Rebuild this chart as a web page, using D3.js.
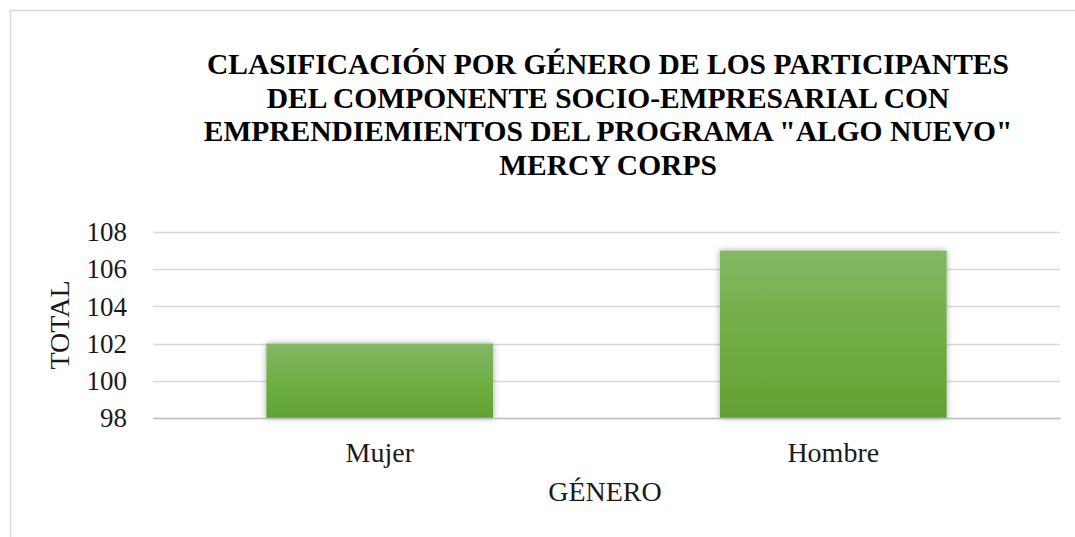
<!DOCTYPE html>
<html>
<head>
<meta charset="utf-8">
<script src="https://cdn.jsdelivr.net/npm/d3@7"></script>
<style>
	body { margin: 0; background: #fff; }
	svg { display: block; font-family: "Liberation Serif", "Times New Roman", serif; }
</style>
</head>
<body>
<svg id="chart" width="1075" height="537"></svg>
<script>
var categories = ["Mujer", "Hombre"];
var totals = [102, 107];
var yTicks = [98, 100, 102, 104, 106, 108];
var titleLines = [
	"CLASIFICACIÓN POR GÉNERO DE LOS PARTICIPANTES",
	"DEL COMPONENTE SOCIO-EMPRESARIAL CON",
	"EMPRENDIEMIENTOS DEL PROGRAMA \"ALGO NUEVO\"",
	"MERCY CORPS"
];

var svg = d3.select("#chart");
var plotLeft = 153, plotRight = 1060, plotTop = 232, plotBottom = 418;

// chart frame, cut off on the right and bottom like the source
svg.append("path")
	.attr("d", "M10.5,537 V10.5 H1075")
	.attr("fill", "none")
	.attr("stroke", "#d9d9d9")
	.attr("stroke-width", 1.5);

var defs = svg.append("defs");
var grad = defs.append("linearGradient")
	.attr("id", "barFill")
	.attr("x1", 0).attr("y1", 0).attr("x2", 0).attr("y2", 1);
grad.append("stop").attr("offset", "0%").attr("stop-color", "#83b866");
grad.append("stop").attr("offset", "50%").attr("stop-color", "#70ae43");
grad.append("stop").attr("offset", "100%").attr("stop-color", "#62a235");

var shadow = defs.append("filter").attr("id", "shadow")
	.attr("x", "-10%").attr("y", "-10%").attr("width", "120%").attr("height", "120%");
shadow.append("feDropShadow")
	.attr("dx", 0).attr("dy", 0).attr("stdDeviation", 3)
	.attr("flood-color", "#000").attr("flood-opacity", 0.35);

var x = d3.scaleBand().domain(categories).range([plotLeft, plotRight]).paddingInner(0.5).paddingOuter(0.25);
var y = d3.scaleLinear().domain([98, 108]).range([plotBottom, plotTop]);

// gridlines
svg.append("g")
	.selectAll("line")
	.data(yTicks)
	.join("line")
	.attr("x1", plotLeft).attr("x2", plotRight)
	.attr("y1", function (d) { return Math.round(y(d)) + 0.5; })
	.attr("y2", function (d) { return Math.round(y(d)) + 0.5; })
	.attr("stroke", "#d9d9d9")
	.attr("stroke-width", 1.5);

// y axis labels
var yAxis = svg.append("g")
	.attr("transform", "translate(" + plotLeft + ",0)")
	.call(d3.axisLeft(y).tickValues(yTicks).tickSize(0).tickPadding(26));
yAxis.select(".domain").remove();
yAxis.selectAll("text")
	.attr("font-family", "Liberation Serif")
	.attr("font-size", 27)
	.attr("fill", "#1a1a1a");

// bars
svg.append("g")
	.selectAll("rect")
	.data(totals)
	.join("rect")
	.attr("x", function (d, i) { return x(categories[i]); })
	.attr("width", x.bandwidth())
	.attr("y", function (d) { return y(d); })
	.attr("height", function (d) { return y(98) - y(d); })
	.attr("fill", "url(#barFill)")
	.attr("filter", "url(#shadow)");

// x axis
var xAxis = svg.append("g")
	.attr("transform", "translate(0," + plotBottom + ")")
	.call(d3.axisBottom(x).tickSize(0).tickPadding(0));
xAxis.select(".domain")
	.attr("stroke", "#bfbfbf")
	.attr("stroke-width", 1.5);
xAxis.selectAll("text")
	.attr("dy", null)
	.attr("y", 44)
	.attr("font-family", "Liberation Serif")
	.attr("font-size", 28)
	.attr("fill", "#1a1a1a");

// axis titles
svg.append("text")
	.attr("x", 605)
	.attr("y", 501)
	.attr("text-anchor", "middle")
	.attr("font-size", 28)
	.attr("fill", "#1a1a1a")
	.text("GÉNERO");

svg.append("text")
	.attr("transform", "translate(69,325) rotate(-90)")
	.attr("text-anchor", "middle")
	.attr("font-size", 28)
	.attr("fill", "#1a1a1a")
	.text("TOTAL");

// title
svg.append("text")
	.attr("text-anchor", "middle")
	.attr("font-size", 29.5)
	.attr("font-weight", "bold")
	.attr("fill", "#000")
	.selectAll("tspan")
	.data(titleLines)
	.join("tspan")
	.attr("x", 608)
	.attr("y", function (d, i) { return 74 + i * 33.5; })
	.text(function (d) { return d; });
</script>
</body>
</html>
